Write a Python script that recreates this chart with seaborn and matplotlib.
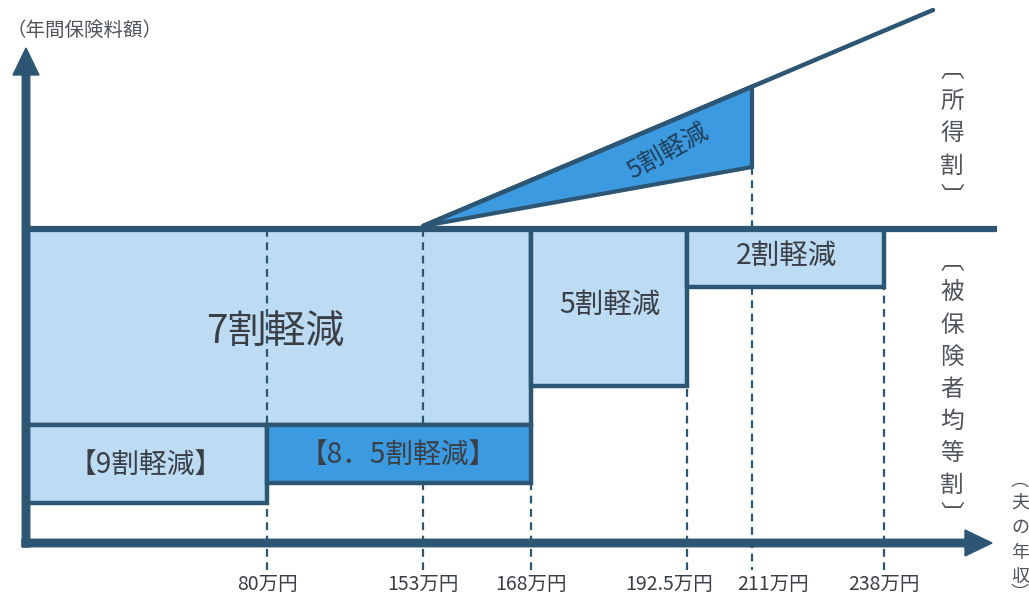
import matplotlib
matplotlib.use("Agg")
import matplotlib.pyplot as plt
import seaborn as sns
import numpy as np
import pandas as pd
from matplotlib.patches import Polygon

sns.set_theme(style="white")
plt.rcParams['font.family'] = ['Noto Sans CJK JP', 'DejaVu Sans']

# ---- data ----
income_thresholds = [80, 153, 168, 192.5, 211, 238]          # 万円
tick_labels = ["80万円", "153万円", "168万円", "192.5万円", "211万円", "238万円"]

# 均等割 reduction tiers
tier_labels = ["7割軽減", "【9割軽減】", "【8．5割軽減】", "5割軽減", "2割軽減"]
tier_start = [None, None, 80, 168, 192.5]
tier_end = [168, 80, 168, 192.5, 238]

# 所得割 reduction
income_tier_label = "5割軽減"
income_tier_start = 153
income_tier_end = 211

# ---- schematic layout (pixel-like units) ----
x_origin = 26
x_layout = dict(zip(income_thresholds, [267, 423, 531, 687, 752, 884]))
x_layout[None] = x_origin
tick_shift = [0, 0, 0, -18, 21, 0]
y_axis = 543
y_divider = 229
tier_bottom = [425, 503, 483, 386, 287]
tier_top = [229, 425, 425, 229, 229]
label_pos = [(275, 332), (146, 465), (398, 455), (610, 305), (786, 256)]
label_size = [28, 20, 20, 20.5, 20.5]

AX = "#2d5674"
LIGHT = "#bddcf3"
DARK = "#3c9be0"
TXT = "#3a3f46"
GRAY = "#50555c"

fig = plt.figure(figsize=(10.29, 6.01), dpi=100)
ax = fig.add_axes([0, 0, 1, 1])
ax.set_xlim(0, 1029)
ax.set_ylim(601, 0)
ax.axis("off")

# dashed guide lines
guide_top = {80: 229, 153: 229, 168: 229, 192.5: 229, 211: 167, 238: 229}
for t in income_thresholds:
    ax.plot([x_layout[t], x_layout[t]], [guide_top[t], 570], color=AX,
            lw=1.6, ls=(0, (3.5, 2.5)), zorder=1.5)

# tier boxes
for i, lab in enumerate(tier_labels):
    x0 = x_layout[tier_start[i]]
    x1 = x_layout[tier_end[i]]
    color = DARK if "8" in lab else LIGHT
    z = 1 if i == 0 else 2
    ax.bar(x0, tier_bottom[i] - tier_top[i], width=x1 - x0, bottom=tier_top[i],
           align="edge", color=color, edgecolor=AX, linewidth=3.2, zorder=z)
    ax.text(label_pos[i][0], label_pos[i][1], lab, fontsize=label_size[i], color=TXT,
            ha="center", va="center", zorder=5)

# 所得割 line and reduction triangle
x_s = x_layout[income_tier_start]
x_e = x_layout[income_tier_end]
line_df = pd.DataFrame({"x": [x_s, 933], "y": [y_divider - 3, 10]})
slope = (10 - (y_divider - 3)) / (933 - x_s)
tri = Polygon([[x_s, y_divider - 3], [x_e, (y_divider - 3) + slope * (x_e - x_s)],
               [x_e, 167]], closed=True, facecolor=DARK, edgecolor=AX, lw=3, zorder=3)
ax.add_patch(tri)
sns.lineplot(data=line_df, x="x", y="y", ax=ax, color=AX, lw=3.2, zorder=4)
ax.text(668, 152, income_tier_label, fontsize=18, color="#1f3f5c", ha="center",
        va="center", rotation=29, zorder=5)

# divider line
ax.plot([x_origin - 2, 997], [y_divider, y_divider], color=AX, lw=4.5,
        solid_capstyle="butt", zorder=4)

# axes arrows
ax.arrow(x_origin, 547, 0, -(547 - 48), width=7.5, head_width=26, head_length=27,
         length_includes_head=True, color=AX, zorder=6)
ax.arrow(22, y_axis, 992 - 22, 0, width=7.5, head_width=26, head_length=27,
         length_includes_head=True, color=AX, zorder=6)

# tick labels
for t, lab, sh in zip(income_thresholds, tick_labels, tick_shift):
    ax.text(x_layout[t] + sh, 584, lab, fontsize=14, color=TXT, ha="center", va="center")

# axis titles
ax.text(6, 30, "（年間保険料額）", fontsize=14, color=GRAY, ha="left", va="center")

def vtext(x, ys, chars, size):
    for y, c in zip(ys, chars):
        ax.text(x, y, c, fontsize=size, color=GRAY, ha="center", va="center")

vtext(952, [70, 101, 134, 166, 197], ["︹", "所", "得", "割", "︺"], 17)
vtext(952, [262, 293, 325, 357, 389, 421, 453, 485, 516],
      ["︹", "被", "保", "険", "者", "均", "等", "割", "︺"], 17)
vtext(1020, [481, 503, 528, 553, 577, 594], ["︵", "夫", "の", "年", "収", "︶"], 13)

fig.savefig("out.png", dpi=100)
